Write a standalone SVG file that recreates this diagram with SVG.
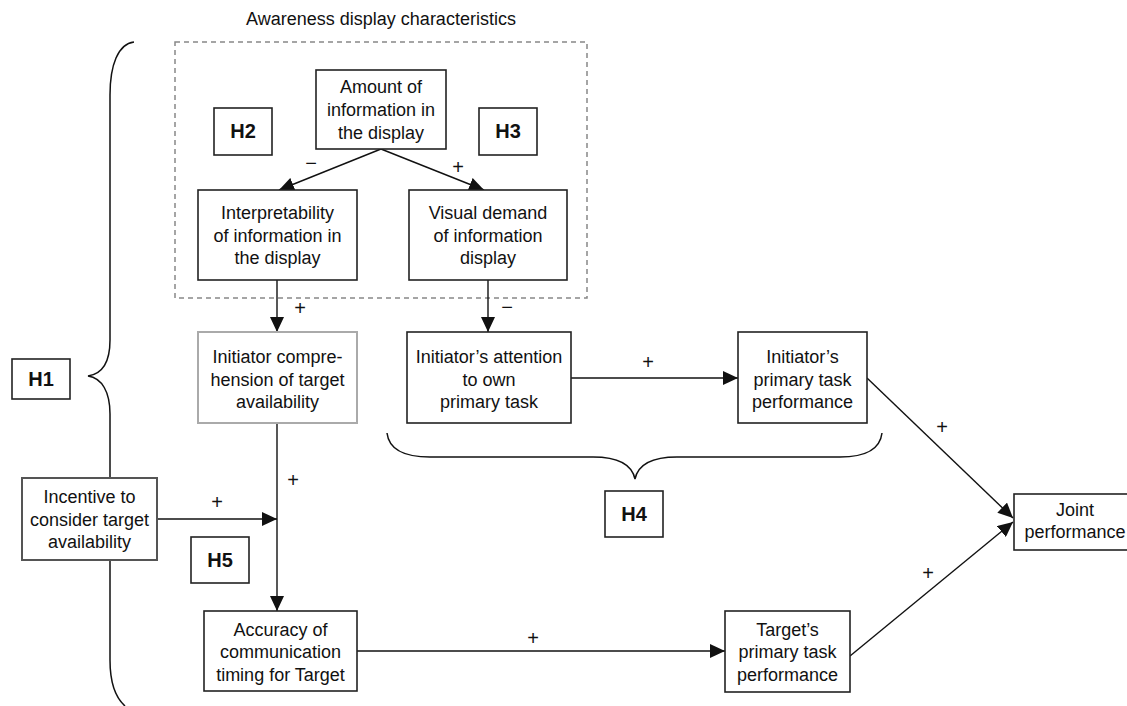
<svg xmlns="http://www.w3.org/2000/svg" width="1127" height="706" viewBox="0 0 1127 706">
<style>
.t{font-family:"Liberation Sans",Arial,Helvetica,sans-serif;font-size:18px;text-anchor:middle;fill:#111}
.s{font-family:"Liberation Sans",Arial,Helvetica,sans-serif;font-size:20px;text-anchor:middle;fill:#111}
.h{font-family:"Liberation Sans",Arial,Helvetica,sans-serif;font-size:20px;font-weight:bold;text-anchor:middle;fill:#111}
.box{fill:#fff;stroke:#222;stroke-width:1.6}
.grey{fill:#fff;stroke:#aaa;stroke-width:2}
.dark{fill:#fff;stroke:#555;stroke-width:2}
.arr{fill:none;stroke:#111;stroke-width:1.4;marker-end:url(#ah)}
.brace{fill:none;stroke:#111;stroke-width:1.5}
</style>
<defs>
<marker id="ah" markerUnits="userSpaceOnUse" markerWidth="15" markerHeight="14" refX="15" refY="7" orient="auto">
<path d="M0,0 L15,7 L0,14 z" fill="#111"/>
</marker>
</defs>
<rect width="1127" height="706" fill="#fff"/>

<g id="group-awareness">
<rect x="175" y="42" width="412" height="256" fill="none" stroke="#888" stroke-width="1.5" stroke-dasharray="5,4"/>
<text class="t" x="381" y="25">Awareness display characteristics</text>
</g>

<g id="braces">
<path class="brace" d="M134,42 C118,44 110,65 110,95 L110,340 C110,362 102,374 88,376 C102,378 110,392 110,414 L110,660 C110,684 116,698 125,706"/>
<path class="brace" d="M387,433 C389,450 405,457 430,457 L593,457 C618,457 632,465 635,479 C638,465 652,457 677,457 L840,457 C865,457 880,450 882,433"/>
</g>

<g id="connectors">
<path class="arr" d="M381,149 L279,190"/>
<path class="arr" d="M381,149 L484,190"/>
<path class="arr" d="M277,280 L277,332"/>
<path class="arr" d="M488,280 L488,332"/>
<path class="arr" d="M277,423 L277,611"/>
<path class="arr" d="M157,519 L277,519"/>
<path class="arr" d="M571,378 L738,378"/>
<path class="arr" d="M357,651 L725,651"/>
<path class="arr" d="M867,378 L1013,518"/>
<path class="arr" d="M850,656 L1013,522"/>
<text class="s" x="311" y="170">−</text>
<text class="s" x="458" y="174">+</text>
<text class="s" x="300" y="315">+</text>
<text class="s" x="507" y="314">−</text>
<text class="s" x="293" y="487">+</text>
<text class="s" x="217" y="509">+</text>
<text class="s" x="648" y="369">+</text>
<text class="s" x="533" y="645">+</text>
<text class="s" x="942" y="434">+</text>
<text class="s" x="928" y="580">+</text>
</g>

<g id="amount">
<rect class="box" x="316" y="70" width="130" height="79"/>
<text class="t" x="381" y="93">Amount of</text>
<text class="t" x="381" y="116">information in</text>
<text class="t" x="381" y="139">the display</text>
</g>

<g id="h2"><rect class="box" x="214" y="108" width="58" height="47"/><text class="h" x="243" y="138">H2</text></g>
<g id="h3"><rect class="box" x="479" y="108" width="58" height="47"/><text class="h" x="508" y="138">H3</text></g>

<g id="interpretability">
<rect class="box" x="198" y="190" width="159" height="90"/>
<text class="t" x="277.5" y="219">Interpretability</text>
<text class="t" x="277.5" y="242">of information in</text>
<text class="t" x="277.5" y="264">the display</text>
</g>

<g id="visual-demand">
<rect class="box" x="409" y="190" width="158" height="90"/>
<text class="t" x="488" y="219">Visual demand</text>
<text class="t" x="488" y="242">of information</text>
<text class="t" x="488" y="264">display</text>
</g>

<g id="comprehension">
<rect class="grey" x="198" y="332" width="159" height="91"/>
<text class="t" x="277.5" y="363">Initiator compre-</text>
<text class="t" x="277.5" y="386">hension of target</text>
<text class="t" x="277.5" y="408">availability</text>
</g>

<g id="attention">
<rect class="box" x="407" y="332" width="164" height="91"/>
<text class="t" x="489" y="363">Initiator’s attention</text>
<text class="t" x="489" y="386">to own</text>
<text class="t" x="489" y="408">primary task</text>
</g>

<g id="initiator-performance">
<rect class="box" x="738" y="332" width="129" height="91"/>
<text class="t" x="802.5" y="363">Initiator’s</text>
<text class="t" x="802.5" y="386">primary task</text>
<text class="t" x="802.5" y="408">performance</text>
</g>

<g id="h1"><rect class="box" x="12" y="359" width="58" height="40"/><text class="h" x="41" y="386">H1</text></g>

<g id="incentive">
<rect class="dark" x="22" y="478" width="135" height="82"/>
<text class="t" x="89.5" y="503">Incentive to</text>
<text class="t" x="89.5" y="526">consider target</text>
<text class="t" x="89.5" y="548">availability</text>
</g>

<g id="h5"><rect class="box" x="191" y="537" width="58" height="46"/><text class="h" x="220" y="567">H5</text></g>
<g id="h4"><rect class="box" x="605" y="491" width="58" height="46"/><text class="h" x="634" y="521">H4</text></g>

<g id="accuracy">
<rect class="box" x="204" y="611" width="153" height="80"/>
<text class="t" x="280.5" y="636">Accuracy of</text>
<text class="t" x="280.5" y="658">communication</text>
<text class="t" x="280.5" y="681">timing for Target</text>
</g>

<g id="target-performance">
<rect class="box" x="725" y="611" width="125" height="81"/>
<text class="t" x="787.5" y="636">Target’s</text>
<text class="t" x="787.5" y="658">primary task</text>
<text class="t" x="787.5" y="681">performance</text>
</g>

<g id="joint">
<rect class="box" x="1014" y="494" width="125" height="56"/>
<text class="t" x="1075" y="516">Joint</text>
<text class="t" x="1075" y="538">performance</text>
</g>
</svg>
